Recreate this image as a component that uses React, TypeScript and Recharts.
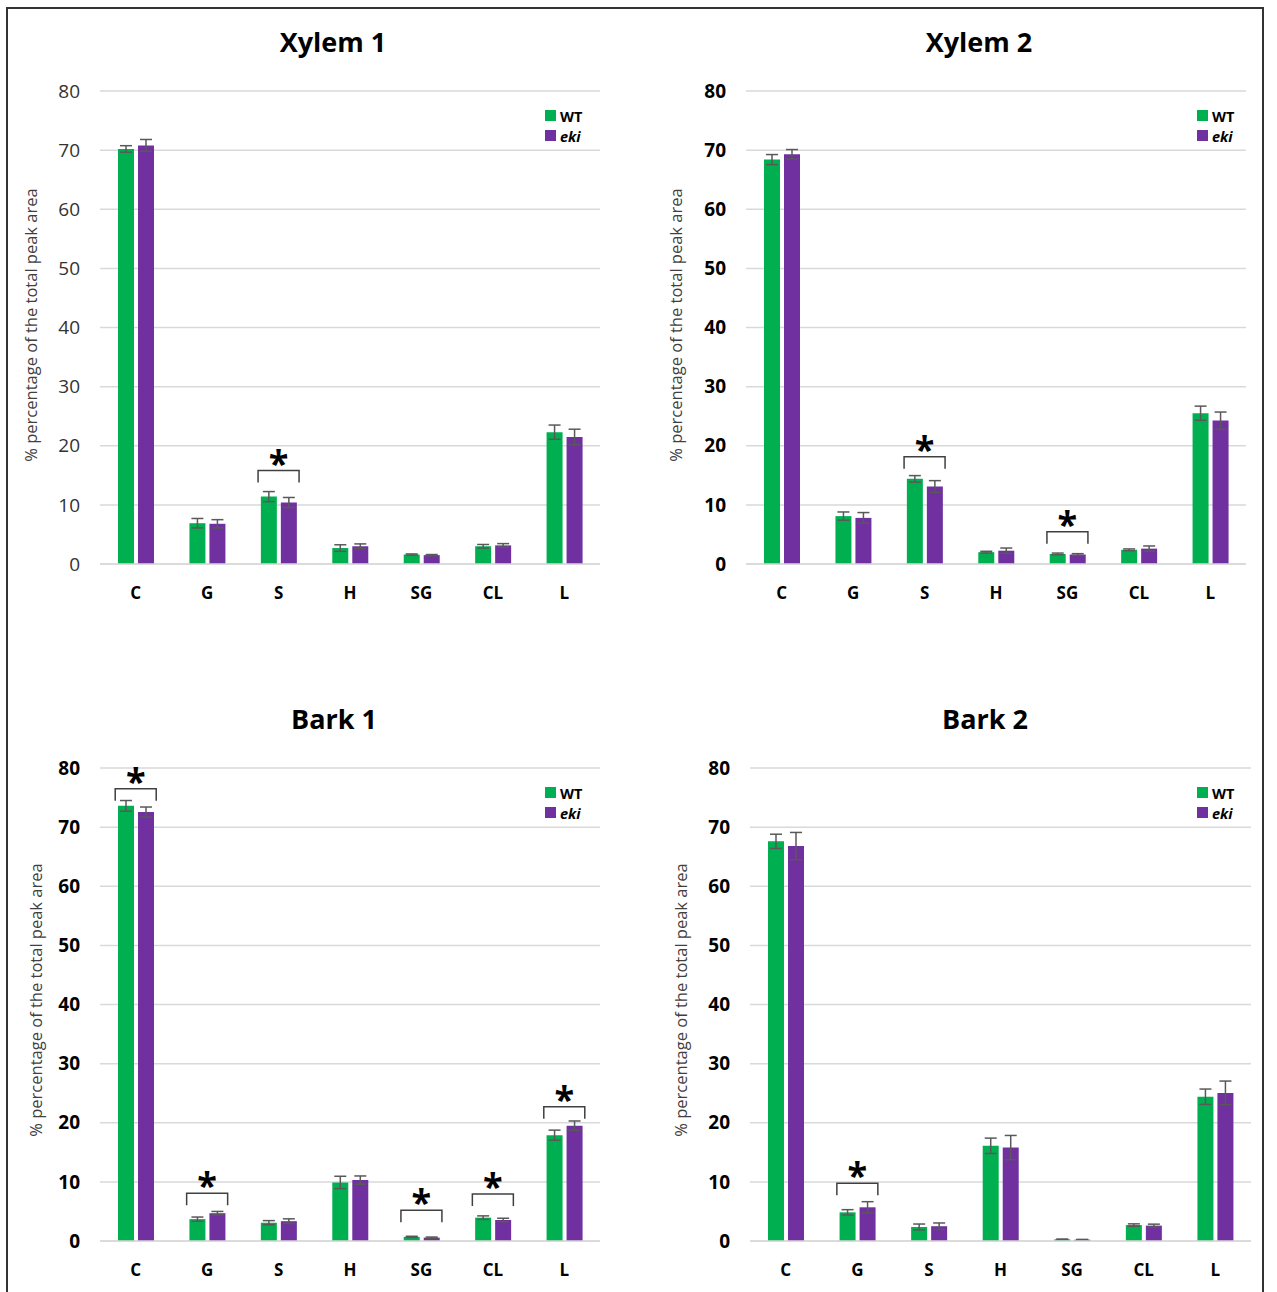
import React from "react";
import { ComposedChart, Bar, Line, XAxis, YAxis, CartesianGrid, ErrorBar, Legend } from "recharts";

const FONT = "'Open Sans', 'Noto Sans', sans-serif";
const green = "#00b050";
const purple = "#7030a0";
const errGray = "#595959";
const gridGray = "#d9d9d9";

const categories = ["C", "G", "S", "H", "SG", "CL", "L"];
const yTicks = [0, 10, 20, 30, 40, 50, 60, 70, 80];

// Xylem 1
const xylem1Wt = [70.2, 6.9, 11.4, 2.7, 1.6, 3.0, 22.3];
const xylem1WtErr = [0.55, 0.8, 0.85, 0.55, 0.1, 0.3, 1.2];
const xylem1Eki = [70.8, 6.8, 10.4, 3.0, 1.5, 3.15, 21.5];
const xylem1EkiErr = [1.0, 0.7, 0.85, 0.4, 0.1, 0.3, 1.3];
const xylem1Sig = [null, null, 15.8, null, null, null, null];

// Xylem 2
const xylem2Wt = [68.4, 8.1, 14.4, 2.0, 1.7, 2.4, 25.5];
const xylem2WtErr = [0.85, 0.7, 0.55, 0.15, 0.15, 0.15, 1.2];
const xylem2Eki = [69.3, 7.8, 13.1, 2.25, 1.6, 2.6, 24.25];
const xylem2EkiErr = [0.8, 0.9, 1.0, 0.45, 0.15, 0.45, 1.45];
const xylem2Sig = [null, null, 18.15, null, 5.45, null, null];

// Bark 1
const bark1Wt = [73.6, 3.7, 3.1, 9.9, 0.7, 3.95, 17.9];
const bark1WtErr = [0.9, 0.35, 0.35, 1.05, 0.1, 0.3, 0.85];
const bark1Eki = [72.55, 4.7, 3.35, 10.3, 0.57, 3.55, 19.5];
const bark1EkiErr = [0.85, 0.3, 0.4, 0.7, 0.1, 0.3, 0.8];
const bark1Sig = [76.5, 8.07, null, null, 5.2, 7.95, 22.7];

// Bark 2
const bark2Wt = [67.6, 4.85, 2.37, 16.1, 0.28, 2.7, 24.4];
const bark2WtErr = [1.2, 0.45, 0.5, 1.3, 0.05, 0.2, 1.3];
const bark2Eki = [66.8, 5.7, 2.5, 15.8, 0.22, 2.6, 25.05];
const bark2EkiErr = [2.3, 0.95, 0.55, 2.05, 0.05, 0.25, 2.0];
const bark2Sig = [null, 9.76, null, null, null, null, null];

const panels = [
  { title: "Xylem 1", wt: xylem1Wt, wtErr: xylem1WtErr, eki: xylem1Eki, ekiErr: xylem1EkiErr, sig: xylem1Sig,
    left: 10, top: 60, width: 610, boldTicks: false, legendLeft: 535, titleX: 333, titleY: 28, labelX: 30, labelY: 325 },
  { title: "Xylem 2", wt: xylem2Wt, wtErr: xylem2WtErr, eki: xylem2Eki, ekiErr: xylem2EkiErr, sig: xylem2Sig,
    left: 656, top: 60, width: 610, boldTicks: true, legendLeft: 541, titleX: 979, titleY: 28, labelX: 675, labelY: 325 },
  { title: "Bark 1", wt: bark1Wt, wtErr: bark1WtErr, eki: bark1Eki, ekiErr: bark1EkiErr, sig: bark1Sig,
    left: 10, top: 737, width: 610, boldTicks: true, legendLeft: 535, titleX: 334, titleY: 705, labelX: 35, labelY: 1000 },
  { title: "Bark 2", wt: bark2Wt, wtErr: bark2WtErr, eki: bark2Eki, ekiErr: bark2EkiErr, sig: bark2Sig,
    left: 660, top: 737, width: 611, boldTicks: true, legendLeft: 537, titleX: 985, titleY: 705, labelX: 680, labelY: 1000 },
];

const renderBracket = (p: any) => {
  const { cx, cy, index } = p;
  if (cx == null || cy == null || isNaN(cy)) return <g key={`b${index}`} />;
  return (
    <g key={`b${index}`}>
      <path d={`M${cx - 20.5},${cy + 12} V${cy} H${cx + 20.5} V${cy + 12}`} fill="none" stroke="#404040" strokeWidth={1.5} />
      <text x={cx} y={cy + 5} textAnchor="middle" fontSize={36} fontWeight={700} fontFamily={FONT} fill="#000">*</text>
    </g>
  );
};

const renderLegend = () => (
  <div style={{ fontFamily: FONT, fontSize: 14.5, fontWeight: 700, color: "#000" }}>
    {[{ name: "WT", color: green, italic: false }, { name: "eki", color: purple, italic: true }].map((d) => (
      <div key={d.name} style={{ display: "flex", alignItems: "flex-start", height: 20 }}>
        <span style={{ width: 11, height: 11, background: d.color, marginTop: 3, marginRight: 4, display: "inline-block" }} />
        <span style={{ display: "inline-block", lineHeight: "20px", fontStyle: d.italic ? "italic" : "normal" }}>{d.name}</span>
      </div>
    ))}
  </div>
);

function Panel({ cfg }: { cfg: any }) {
  const data = categories.map((c, i) => ({
    cat: c, wt: cfg.wt[i], wtErr: cfg.wtErr[i], eki: cfg.eki[i], ekiErr: cfg.ekiErr[i], sig: cfg.sig[i],
  }));
  return (
    <>
      <div style={{ position: "absolute", left: cfg.titleX, top: cfg.titleY, transform: "translateX(-50%)", fontFamily: FONT, fontSize: 27, fontWeight: 700, lineHeight: "27px", whiteSpace: "nowrap", color: "#000" }}>
        {cfg.title}
      </div>
      <div style={{ position: "absolute", left: cfg.labelX, top: cfg.labelY, transform: "translate(-50%, -50%) rotate(-90deg)", fontFamily: FONT, fontSize: 16.5, color: "#404040", whiteSpace: "nowrap" }}>
        % percentage of the total peak area
      </div>
      <div style={{ position: "absolute", left: cfg.left, top: cfg.top }}>
        <ComposedChart width={cfg.width} height={554} data={data} margin={{ top: 31, right: 20, bottom: 5, left: 40 }} barSize={16} barGap={4}>
          <CartesianGrid vertical={false} stroke={gridGray} strokeWidth={1.5} />
          <XAxis dataKey="cat" interval={0} height={45} axisLine={{ stroke: gridGray, strokeWidth: 1.5 }} tickLine={false} tickSize={0} tickMargin={23}
            tick={{ fill: "#000", fontSize: 17, fontWeight: 700, fontFamily: FONT }} />
          <YAxis domain={[0, 80]} ticks={yTicks} width={50} axisLine={false} tickLine={false} tickSize={0} tickMargin={20}
            tick={{ fill: cfg.boldTicks ? "#000" : "#333", fontSize: 19, fontWeight: cfg.boldTicks ? 700 : 400, fontFamily: FONT }} />
          <Legend layout="vertical" align="center" verticalAlign="middle" content={renderLegend}
            wrapperStyle={{ left: cfg.legendLeft, top: 47, width: "auto", height: "auto" }} />
          <Bar dataKey="wt" name="WT" fill={green} isAnimationActive={false}>
            <ErrorBar dataKey="wtErr" width={6} stroke={errGray} strokeWidth={1.5} direction="y" />
          </Bar>
          <Bar dataKey="eki" name="eki" fill={purple} isAnimationActive={false}>
            <ErrorBar dataKey="ekiErr" width={6} stroke={errGray} strokeWidth={1.5} direction="y" />
          </Bar>
          <Line dataKey="sig" stroke="none" dot={renderBracket} activeDot={false} legendType="none" isAnimationActive={false} />
        </ComposedChart>
      </div>
    </>
  );
}

export default function App() {
  return (
    <div style={{ position: "absolute", left: 0, top: 0, width: 1277, height: 1292, overflow: "hidden", background: "#fff" }}>
      <div style={{ position: "absolute", left: 6, top: 7, width: 1254, height: 1300, border: "2px solid #333" }} />
      {panels.map((p) => <Panel key={p.title} cfg={p} />)}
    </div>
  );
}
